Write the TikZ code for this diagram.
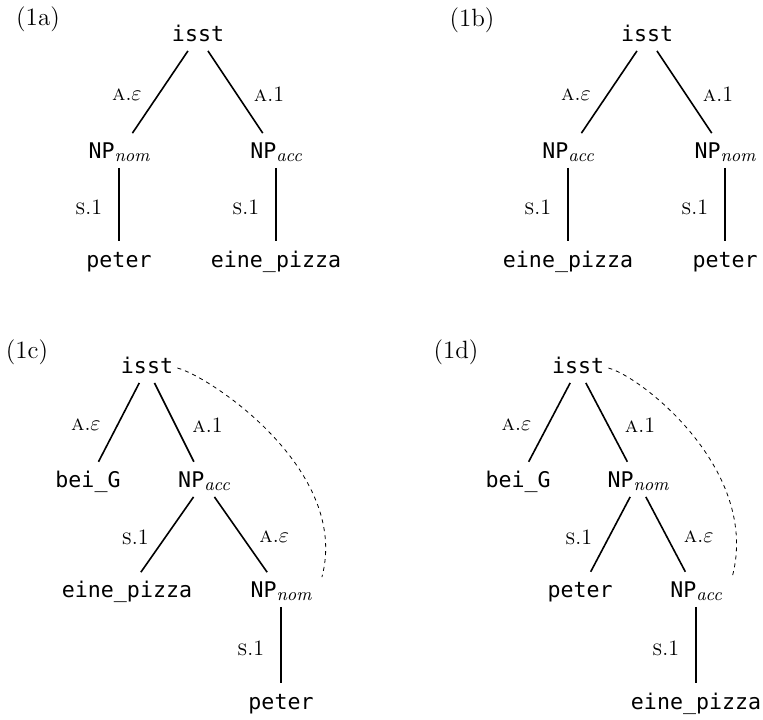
\documentclass[tikz,border=0pt]{standalone}
\usepackage{fontspec}
\usepackage{amsmath}
\setmonofont{DejaVu Sans Mono}
\usetikzlibrary{positioning}

\newcommand{\npcase}[1]{NP\raisebox{-1.5pt}{\fontsize{9}{10}\selectfont\rmfamily\itshape #1}}
\newcommand{\aeps}{\textsc{a}.$\varepsilon$}
\newcommand{\aone}{\textsc{a}.1}
\newcommand{\sone}{\textsc{s}.1}

\begin{document}
\begin{tikzpicture}[
  on grid,
  word/.style={font=\ttfamily\fontsize{10.8}{13}\selectfont, text height=8pt,
               text depth=2.5pt, inner sep=2pt},
  lbl/.style={font=\fontsize{11}{13}\selectfont, inner sep=1pt},
  exlabel/.style={font=\fontsize{12.5}{15}\selectfont, inner sep=0pt},
  branch/.style={line width=0.8pt, shorten >=3pt},
  link/.style={line width=0.4pt, dash pattern=on 2pt off 2pt}]
\useasboundingbox (0,0) rectangle (381.5pt,-359.5pt);
% (1a)
\node[exlabel] (exA) at (19pt,-9.5pt) {(1a)};
\node[word] (isstA) at (99pt,-18pt) {isst};
\node[word, below left=58.5pt and 39.5pt of isstA] (nomA) {\npcase{nom}};
\node[word, below right=58.5pt and 39pt of isstA] (accA) {\npcase{acc}};
\node[word, below=54.5pt of nomA] (peterA) {peter};
\node[word, below=54.5pt of accA] (pizzaA) {eine\_pizza};
\draw[branch] (isstA) -- node[lbl, left=7pt] {\aeps} (nomA);
\draw[branch] (isstA) -- node[lbl, right=7pt] {\aone} (accA);
\draw[branch] (nomA) -- node[lbl, left=7pt] {\sone} (peterA);
\draw[branch] (accA) -- node[lbl, left=7pt] {\sone} (pizzaA);
% (1b)
\node[exlabel] (exB) at (236pt,-10pt) {(1b)};
\node[word] (isstB) at (323.5pt,-18pt) {isst};
\node[word, below left=58.5pt and 39.5pt of isstB] (accB) {\npcase{acc}};
\node[word, below right=58.5pt and 39pt of isstB] (nomB) {\npcase{nom}};
\node[word, below=54.5pt of accB] (pizzaB) {eine\_pizza};
\node[word, below=54.5pt of nomB] (peterB) {peter};
\draw[branch] (isstB) -- node[lbl, left=7pt] {\aeps} (accB);
\draw[branch] (isstB) -- node[lbl, right=7pt] {\aone} (nomB);
\draw[branch] (accB) -- node[lbl, left=7pt] {\sone} (pizzaB);
\draw[branch] (nomB) -- node[lbl, left=7pt] {\sone} (peterB);
% (1c)
\node[exlabel] (exC) at (13.5pt,-176pt) {(1c)};
\node[word] (isstC) at (73.5pt,-184pt) {isst};
\node[word, below left=57pt and 29.5pt of isstC] (beiC) {bei\_G};
\node[word, below right=57pt and 28.5pt of isstC] (accC) {\npcase{acc}};
\node[word, below left=55pt and 38.5pt of accC] (pizzaC) {eine\_pizza};
\node[word, below right=55pt and 38.5pt of accC] (nomC) {\npcase{nom}};
\node[word, below=56pt of nomC] (peterC) {peter};
\draw[branch] (isstC) -- node[lbl, left=7pt] {\aeps} (beiC);
\draw[branch] (isstC) -- node[lbl, right=7pt] {\aone} (accC);
\draw[branch] (accC) -- node[lbl, left=7pt] {\sone} (pizzaC);
\draw[branch] (accC) -- node[lbl, right=7pt] {\aeps} (nomC);
\draw[branch] (nomC) -- node[lbl, left=7pt] {\sone} (peterC);
\draw[link] (isstC.east) .. controls +(-15:17.5pt) and +(75:55pt) .. ([xshift=3pt]nomC.north east);
% (1d)
\node[exlabel] (exD) at (228pt,-176pt) {(1d)};
\node[word] (isstD) at (289pt,-184pt) {isst};
\node[word, below left=57pt and 30pt of isstD] (beiD) {bei\_G};
\node[word, below right=57pt and 30pt of isstD] (nomD) {\npcase{nom}};
\node[word, below left=55pt and 29pt of nomD] (peterD) {peter};
\node[word, below right=55pt and 29pt of nomD] (accD) {\npcase{acc}};
\node[word, below=56pt of accD] (pizzaD) {eine\_pizza};
\draw[branch] (isstD) -- node[lbl, left=7pt] {\aeps} (beiD);
\draw[branch] (isstD) -- node[lbl, right=7pt] {\aone} (nomD);
\draw[branch] (nomD) -- node[lbl, left=7pt] {\sone} (peterD);
\draw[branch] (nomD) -- node[lbl, right=7pt] {\aeps} (accD);
\draw[branch] (accD) -- node[lbl, left=7pt] {\sone} (pizzaD);
\draw[link] (isstD.east) .. controls +(-15:17.5pt) and +(75:55pt) .. ([xshift=3pt]accD.north east);
\end{tikzpicture}
\end{document}
